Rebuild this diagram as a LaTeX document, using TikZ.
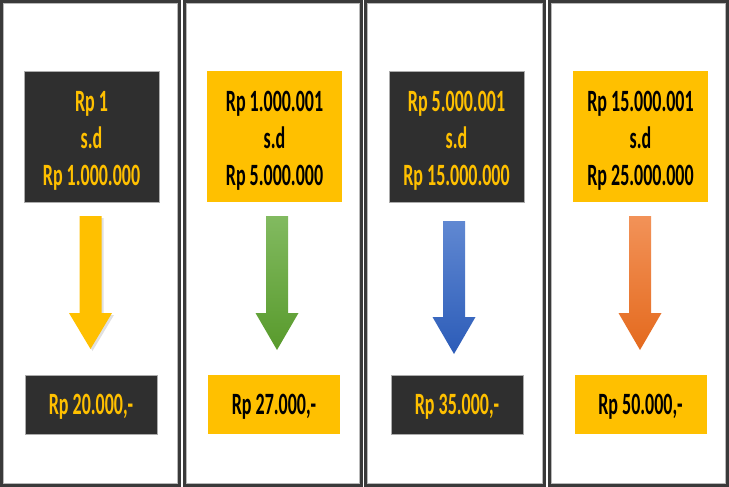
\documentclass[tikz,border=0pt]{standalone}
\usepackage{fontspec}
\newfontfamily\cf[FakeStretch=0.58]{Carlito}
\definecolor{dk}{HTML}{2F2F2F}
\definecolor{yl}{HTML}{FFC000}
\definecolor{pn}{HTML}{3A3A3A}
\definecolor{gtop}{RGB}{130,186,96}
\definecolor{gbot}{RGB}{88,154,44}
\definecolor{btop}{RGB}{96,136,210}
\definecolor{bbot}{RGB}{44,92,184}
\definecolor{otop}{RGB}{242,146,88}
\definecolor{obot}{RGB}{228,106,30}
\begin{document}
\begin{tikzpicture}[x=1pt,y=-1pt,
  panel/.style={draw=pn, line width=3pt},
  panelin/.style={draw=gray!55, line width=0.8pt},
  boxtext/.style={inner sep=0pt, align=center, font=\cf\bfseries\fontsize{31}{37}\selectfont},
  darkbox/.style={fill=dk, draw=gray!65, line width=0.6pt},
  yelbox/.style={fill=yl},
  onDark/.style={boxtext, text=yl},
  onYel/.style={boxtext, text=black},
  topbox/.style={minimum width=135pt, minimum height=131pt},
  botbox/.style={minimum width=132pt, minimum height=59pt}
]
\useasboundingbox (0,0) rectangle (729,487);
\fill[white] (0,0) rectangle (729,487);
% panels
\foreach \a/\b in {1.5/179.5, 184.5/361, 365.5/544.5, 549.5/727.5}{
  \draw[panel] (\a,1.5) rectangle (\b,485);
  \draw[panelin] (\a+2,3.5) rectangle (\b-2,483);
}
% top boxes
\node[darkbox, topbox] (t1) at (91.5,136.5) {};
\node[yelbox, topbox] (t2) at (274.5,136.5) {};
\node[darkbox, topbox] (t3) at (456.5,136.5) {};
\node[yelbox, topbox] (t4) at (640.5,136.5) {};
\node[onDark] (t1t) at ([yshift=-4pt]t1.center) {Rp 1\\s.d\\Rp 1.000.000};
\node[onYel] (t2t) at ([yshift=-4pt]t2.center) {Rp 1.000.001\\s.d\\Rp 5.000.000};
\node[onDark] (t3t) at ([yshift=-4pt]t3.center) {Rp 5.000.001\\s.d\\Rp 15.000.000};
\node[onYel] (t4t) at ([yshift=-4pt]t4.center) {Rp 15.000.001\\s.d\\Rp 25.000.000};
% bottom boxes
\node[darkbox, botbox] (b1) at (91,404.5) {};
\node[yelbox, botbox] (b2) at (274,404.5) {};
\node[darkbox, botbox] (b3) at (457,404.5) {};
\node[yelbox, botbox] (b4) at (640.5,404.5) {};
\node[onDark] (b1t) at ([yshift=-2pt]b1.center) {Rp 20.000,-};
\node[onYel] (b2t) at ([yshift=-2pt]b2.center) {Rp 27.000,-};
\node[onDark] (b3t) at ([yshift=-2pt]b3.center) {Rp 35.000,-};
\node[onYel] (b4t) at ([yshift=-2pt]b4.center) {Rp 50.000,-};
% block arrows
\newcommand\blockarr[5]{% cx, top, head, tip, options
  \path[#5] (#1-11,#2) -- (#1+11,#2) -- (#1+11,#3) -- (#1+21.5,#3) -- (#1,#4) -- (#1-21.5,#3) -- (#1-11,#3) -- cycle;}
\blockarr{92.5}{218}{315}{351}{fill=black, opacity=0.12}
\blockarr{90.5}{216}{313}{349}{fill=yl}
\blockarr{277}{216}{313}{350}{top color=gtop, bottom color=gbot}
\blockarr{454}{221}{317}{354}{top color=btop, bottom color=bbot}
\blockarr{640}{216}{313}{350}{top color=otop, bottom color=obot}
\end{tikzpicture}
\end{document}
